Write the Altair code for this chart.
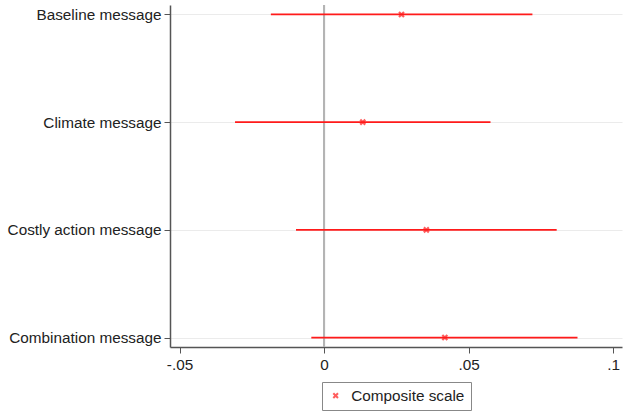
import altair as alt
import pandas as pd

# Treatment effects on the composite scale, with 95% confidence intervals
categories = ["Baseline message", "Climate message", "Costly action message", "Combination message"]
estimates = [0.0268, 0.0134, 0.0354, 0.0418]
ci_lower = [-0.0184, -0.0308, -0.0097, -0.0044]
ci_upper = [0.0721, 0.0576, 0.0805, 0.0877]
series_name = "Composite scale"
x_ticks = [-0.05, 0, 0.05, 0.1]

df = pd.DataFrame({
    "category": categories,
    "estimate": estimates,
    "lower": ci_lower,
    "upper": ci_upper,
    "series": [series_name] * len(categories),
})

RED = "#ff1a1a"
X_SHAPE = "M-1,-1L1,1M-1,1L1,-1"
FONT = "Liberation Sans"

x_scale = alt.Scale(domain=[-0.0533, 0.1031], nice=False, zero=False)
y_scale = alt.Scale(type="point", domain=categories, padding=0.0877)

x_axis = alt.Axis(
    values=x_ticks,
    labelExpr="replace(toString(datum.value), '0.', '.')",
    title=None,
    grid=False,
    tickSize=6,
    labelPadding=4,
    labelFontSize=15.3,
    labelFont=FONT,
    labelColor="#222222",
    tickColor="#555555",
    domainColor="#555555",
    domainWidth=1.5,
)
y_axis = alt.Axis(
    title=None,
    grid=True,
    gridColor="#ebebeb",
    gridWidth=1,
    tickSize=6,
    labelPadding=3,
    labelFontSize=15.3,
    labelFont=FONT,
    labelColor="#222222",
    tickColor="#555555",
    domainColor="#555555",
    domainWidth=1.5,
)

base = alt.Chart(df)

# Reference line at zero
zero_line = base.mark_rule(color="#b4b4b4", strokeWidth=2).encode(
    x=alt.datum(0, scale=x_scale, axis=x_axis, type="quantitative"),
)

intervals = base.mark_rule(color=RED, strokeWidth=1.8).encode(
    x=alt.X("lower:Q", scale=x_scale, axis=x_axis),
    x2="upper:Q",
    y=alt.Y("category:N", scale=y_scale, axis=y_axis, sort=categories),
)

points = base.mark_point(shape=X_SHAPE, filled=False, size=25, strokeWidth=2.2).encode(
    x=alt.X("estimate:Q", scale=x_scale, axis=x_axis),
    y=alt.Y("category:N", scale=y_scale, axis=y_axis, sort=categories),
    color=alt.Color(
        "series:N",
        scale=alt.Scale(domain=[series_name], range=[RED]),
        legend=alt.Legend(
            title=None,
            orient="none",
            legendX=152,
            legendY=377,
            symbolType=X_SHAPE,
            symbolSize=22,
            symbolStrokeWidth=2,
            labelFontSize=15.3,
            labelFont=FONT,
            labelColor="#222222",
            labelOffset=8,
            strokeColor="#888888",
            padding=6,
            cornerRadius=0,
        ),
    ),
)

chart = (
    alt.layer(zero_line, intervals, points)
    .properties(
        width=452,
        height=342,
        autosize=alt.AutoSizeParams(type="none"),
        padding={"left": 170, "top": 5, "right": 1, "bottom": 65},
        background="white",
    )
    .configure_view(stroke=None)
    .configure_legend(fillColor="white", rowPadding=0)
)

chart.save("out.html", embed_options={"renderer": "svg", "actions": False})
